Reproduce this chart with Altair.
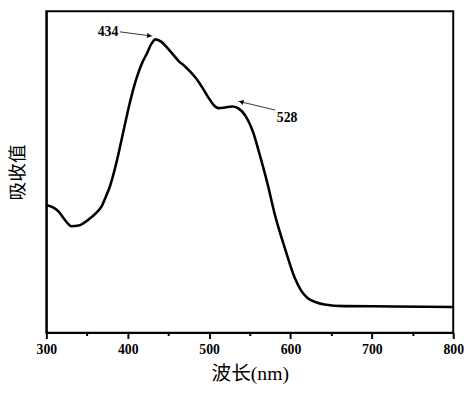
import altair as alt
import pandas as pd

# Spectrum (wavelength nm, absorbance a.u.)
wavelength = [300.0, 309.3, 315.4, 322.6, 331.1, 339.5, 351.6, 361.3, 367.7, 373.4,
              377.9, 385.9, 394.0, 402.1, 407.3, 412.1, 418.1, 424.2, 429.0, 434.2,
              441.1, 448.4, 455.6, 462.9, 470.1, 477.4, 484.6, 491.9, 499.2, 505.2,
              511.2, 519.7, 528.2, 535.4, 545.1, 554.8, 560.8, 571.7, 581.4, 593.5,
              605.6, 612.9, 621.3, 632.2, 641.8, 666.0, 726.5, 800.0]
absorbance = [0.390, 0.381, 0.369, 0.345, 0.325, 0.327, 0.345, 0.366, 0.385, 0.417,
              0.445, 0.517, 0.607, 0.697, 0.748, 0.787, 0.826, 0.856, 0.882, 0.896,
              0.889, 0.871, 0.850, 0.829, 0.814, 0.796, 0.775, 0.748, 0.718, 0.697,
              0.686, 0.688, 0.691, 0.686, 0.661, 0.607, 0.556, 0.456, 0.355, 0.255,
              0.165, 0.129, 0.105, 0.092, 0.086, 0.081, 0.080, 0.078]

# Peak annotations
label_text = ["434", "528"]
label_x = [375.8, 595.9]
label_y = [0.919, 0.656]
arrow_x1 = [390.5, 581.4]
arrow_y1 = [0.919, 0.680]
arrow_x2 = [430.2, 536.0]
arrow_y2 = [0.906, 0.707]
head_x = [426.6, 539.5]
head_y = [0.907, 0.705]
head_shape = ["triangle-right", "triangle-left"]
head_angle = [7, 14]

x_ticks = [300, 350, 400, 450, 500, 550, 600, 650, 700, 750, 800]

spec = pd.DataFrame({"wl": wavelength, "abs": absorbance})
ann = pd.DataFrame({"text": label_text, "x": label_x, "y": label_y,
                    "x1": arrow_x1, "y1": arrow_y1, "x2": arrow_x2, "y2": arrow_y2,
                    "hx": head_x, "hy": head_y, "shape": head_shape, "angle": head_angle})

serif = "Liberation Serif"
title_font = "Liberation Serif, Noto Sans CJK SC"

xscale = alt.Scale(domain=[300, 800], nice=False, zero=False)
yscale = alt.Scale(domain=[0, 0.982], nice=False, zero=False)

line = alt.Chart(spec).mark_line(color="black", strokeWidth=2.6, interpolate="monotone").encode(
    x=alt.X("wl:Q", scale=xscale,
            axis=alt.Axis(title="波长(nm)", values=x_ticks, grid=False,
                          labelExpr="datum.value % 100 === 0 ? datum.label : ''",
                          tickSize=alt.expr("datum.value % 100 === 0 ? 6 : 3"),
                          tickColor="black", tickWidth=2, domainColor="black", domainWidth=2,
                          labelFont=serif, labelFontWeight="bold", labelFontSize=14,
                          labelColor="black", labelPadding=4, labelFlush=False,
                          titleFont=title_font, titleFontSize=20, titleFontWeight="normal",
                          titleColor="black", titlePadding=8)),
    y=alt.Y("abs:Q", scale=yscale,
            axis=alt.Axis(title="吸收值", labels=False, ticks=False, grid=False,
                          domainColor="black", domainWidth=2,
                          titleFont=title_font, titleFontSize=19, titleFontWeight="normal",
                          titleColor="black", titlePadding=19)),
)

arrows = alt.Chart(ann).mark_rule(color="#333333", strokeWidth=1).encode(
    x=alt.X("x1:Q", scale=xscale), y=alt.Y("y1:Q", scale=yscale),
    x2="x2:Q", y2="y2:Q",
)

heads = alt.Chart(ann).mark_point(filled=True, color="black", size=28, opacity=1).encode(
    x=alt.X("hx:Q", scale=xscale), y=alt.Y("hy:Q", scale=yscale),
    shape=alt.Shape("shape:N", scale=None, legend=None),
    angle=alt.Angle("angle:Q", scale=None),
)

labels = alt.Chart(ann).mark_text(font=serif, fontWeight="bold", fontSize=14, color="black",
                                  align="center", baseline="middle").encode(
    x=alt.X("x:Q", scale=xscale), y=alt.Y("y:Q", scale=yscale), text="text:N",
)

chart = alt.layer(line, arrows, heads, labels).properties(
    width=414, height=327,
    autosize=alt.AutoSizeParams(type="none"),
    padding={"left": 39, "top": 0, "right": 13, "bottom": 50},
    background="white",
).configure_view(stroke="black", strokeWidth=2)

chart.save("out.html", embed_options={"renderer": "svg", "actions": False})
